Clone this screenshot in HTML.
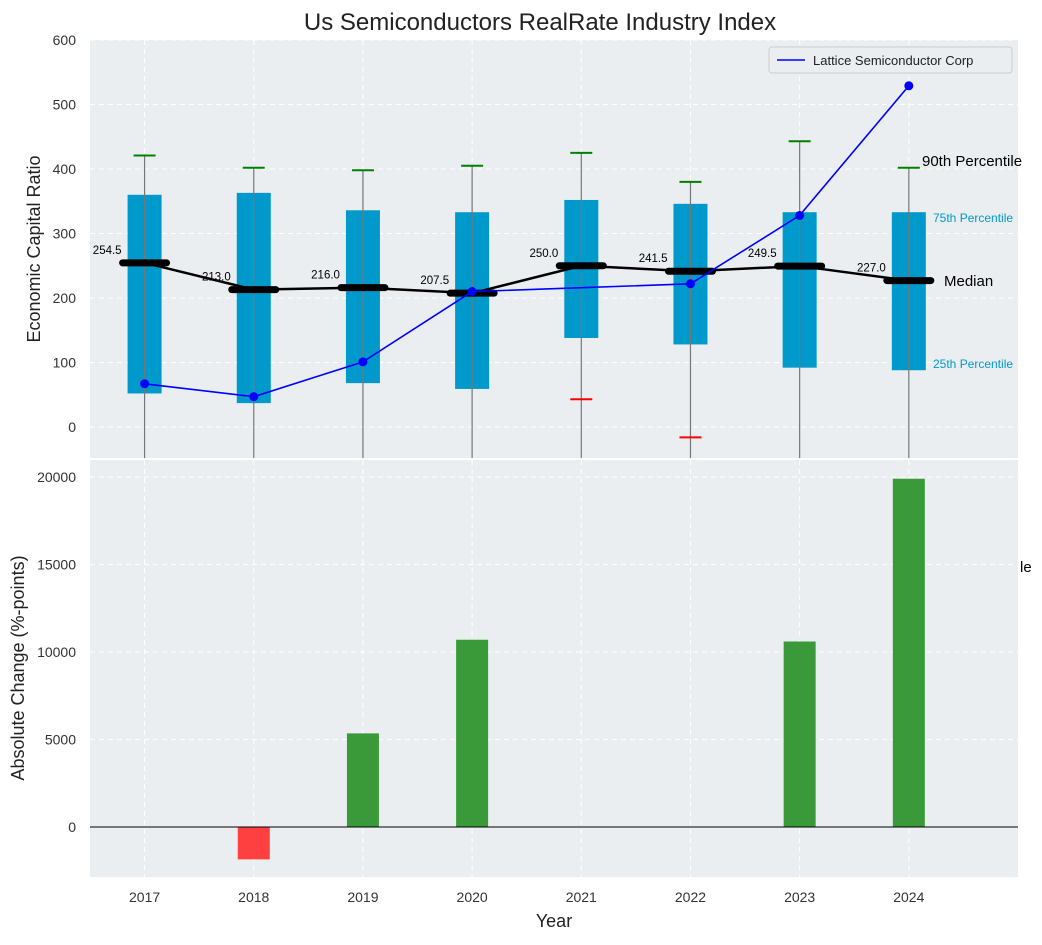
<!DOCTYPE html>
<html><head><meta charset="utf-8"><style>
body{margin:0;background:#fff}
svg{font-family:"Liberation Sans",sans-serif}
</style></head><body>
<svg id="c" width="1042" height="940" viewBox="0 0 1042 940"></svg>
<script>
const years=[2017,2018,2019,2020,2021,2022,2023,2024];
const q1=[52,37,68,59,138,128,92,88];
const q3=[360,363,336,333,352,346,333,333];
const medians=[254.5,213.0,216.0,207.5,250.0,241.5,249.5,227.0];
const whiskerTop=[421,402,398,405,425,380,443,402];
const whiskerLow=[null,null,null,null,43,-16,null,null];
const lattice=[67,47,101,210,216,222,328,529];
const changes=[0,-1850,5350,10700,0,0,10600,19900];
const topTicks=[0,100,200,300,400,500,600];
const botTicks=[0,5000,10000,15000,20000];

const NS="http://www.w3.org/2000/svg";
const svg=document.getElementById('c');
function el(t,a,p){const e=document.createElementNS(NS,t);for(const k in a)e.setAttribute(k,a[k]);(p||svg).appendChild(e);return e;}
const L=90,R=1018;
const x=v=>L+(v-2016.5)/(2025-2016.5)*(R-L);
const T0=40,T1=458,y1=v=>427-v*0.645;
const B0=460,B1=877,y2=v=>827-v*0.0175;

let t=el('text',{x:540,y:30,'text-anchor':'middle','font-size':24,fill:'#222'});t.textContent='Us Semiconductors RealRate Industry Index';


// panels
let p1=el('rect',{x:L,y:T0,width:R-L,height:T1-T0,fill:'#eaeef0'});

let p2=el('rect',{x:L,y:B0,width:R-L,height:B1-B0,fill:'#eaeef0'});

const defs=el('defs',{});
const c1=el('clipPath',{id:'c1'},defs);el('rect',{x:L,y:T0,width:R-L,height:T1-T0},c1);
const c2=el('clipPath',{id:'c2'},defs);el('rect',{x:L,y:B0,width:R-L,height:B1-B0},c2);
const g1=el('g',{'clip-path':'url(#c1)'});
const g2=el('g',{'clip-path':'url(#c2)'});

// grids
years.forEach(yr=>{
 el('line',{x1:x(yr),x2:x(yr),y1:T0,y2:T1,stroke:'#fff','stroke-dasharray':'5,4'},g1);
 el('line',{x1:x(yr),x2:x(yr),y1:B0,y2:B1,stroke:'#fff','stroke-dasharray':'5,4'},g2);
 let tl=el('text',{x:x(yr),y:902,'text-anchor':'middle','font-size':14,fill:'#333'});tl.textContent=yr;
 
});
topTicks.forEach(v=>{
 el('line',{x1:L,x2:R,y1:y1(v),y2:y1(v),stroke:'#fff','stroke-dasharray':'5,4'},g1);
 let tl=el('text',{x:76,y:y1(v)+5,'text-anchor':'end','font-size':14,fill:'#333'});tl.textContent=v;
 
});
botTicks.forEach(v=>{
 el('line',{x1:L,x2:R,y1:y2(v),y2:y2(v),stroke:'#fff','stroke-dasharray':'5,4'},g2);
 let tl=el('text',{x:76,y:y2(v)+5,'text-anchor':'end','font-size':14,fill:'#333'});tl.textContent=v;
 
});

// boxes
years.forEach((yr,i)=>{
 const cx=x(yr);
 let b=el('rect',{x:cx-17,y:y1(q3[i]),width:34,height:y1(q1[i])-y1(q3[i]),fill:'#0099cc'},g1);
 
 el('line',{x1:cx,x2:cx,y1:y1(whiskerTop[i]),y2:T1,stroke:'#777','stroke-width':1.2},g1);
 el('line',{x1:cx-11,x2:cx+11,y1:y1(whiskerTop[i]),y2:y1(whiskerTop[i]),stroke:'green','stroke-width':2},g1);
 if(whiskerLow[i]!==null)el('line',{x1:cx-11,x2:cx+11,y1:y1(whiskerLow[i]),y2:y1(whiskerLow[i]),stroke:'red','stroke-width':2},g1);
});
// median line
let mp=el('polyline',{points:years.map((yr,i)=>x(yr)+','+y1(medians[i])).join(' '),fill:'none',stroke:'#000','stroke-width':2.5},g1);

years.forEach((yr,i)=>{
 const cx=x(yr);
 el('line',{x1:cx-22,x2:cx+22,y1:y1(medians[i]),y2:y1(medians[i]),stroke:'#000','stroke-width':7,'stroke-linecap':'round'},g1);
 let a=el('text',{x:cx-23,y:y1(medians[i])-9,'text-anchor':'end','font-size':11.5,fill:'#000'},g1);a.textContent=medians[i].toFixed(1);
 
});
// lattice
let lp=el('polyline',{points:years.map((yr,i)=>x(yr)+','+y1(lattice[i])).join(' '),fill:'none',stroke:'#0000ff','stroke-width':1.6},g1);

years.forEach((yr,i)=>{if(i===4)return;let m=el('circle',{cx:x(yr),cy:y1(lattice[i]),r:4.5,fill:'#0000ff'},g1);
 });

// side labels
function lab(s,xx,yy,fs,col){let e=el('text',{x:xx,y:yy,'font-size':fs,fill:col});e.textContent=s;}
lab('90th Percentile',922,166,15,'#000');
lab('75th Percentile',933,222,12,'#0099cc');
lab('Median',944,286,15,'#000');
lab('25th Percentile',933,368,12,'#0099cc');
lab('le',1020,572,15,'#000');

// legend
let lg=el('g',{});
el('rect',{x:769,y:47,width:243,height:26,fill:'#eaeef0',stroke:'#ccc',rx:3},lg);
el('line',{x1:777,x2:805,y1:60,y2:60,stroke:'#0000ff','stroke-width':1.6},lg);
let lt=el('text',{x:813,y:65,'font-size':13,fill:'#222'},lg);lt.textContent='Lattice Semiconductor Corp';

// bars
years.forEach((yr,i)=>{
 const v=changes[i];if(v===0)return;
 let b=el('rect',{x:x(yr)-16,y:Math.min(y2(v),y2(0)),width:32,height:Math.abs(y2(v)-y2(0)),fill:v<0?'#ff4040':'#3a9a3a'},g2);
 
});
el('line',{x1:L,x2:R,y1:y2(0),y2:y2(0),stroke:'#000','stroke-width':1});

let ya=el('text',{x:40,y:249,'text-anchor':'middle','font-size':18,fill:'#222',transform:'rotate(-90 40 249)'});ya.textContent='Economic Capital Ratio';

let yb=el('text',{x:24,y:668,'text-anchor':'middle','font-size':18,fill:'#222',transform:'rotate(-90 24 668)'});yb.textContent='Absolute Change (%-points)';

let xa=el('text',{x:554,y:927,'text-anchor':'middle','font-size':18,fill:'#222'});xa.textContent='Year';

</script>
</body></html>
